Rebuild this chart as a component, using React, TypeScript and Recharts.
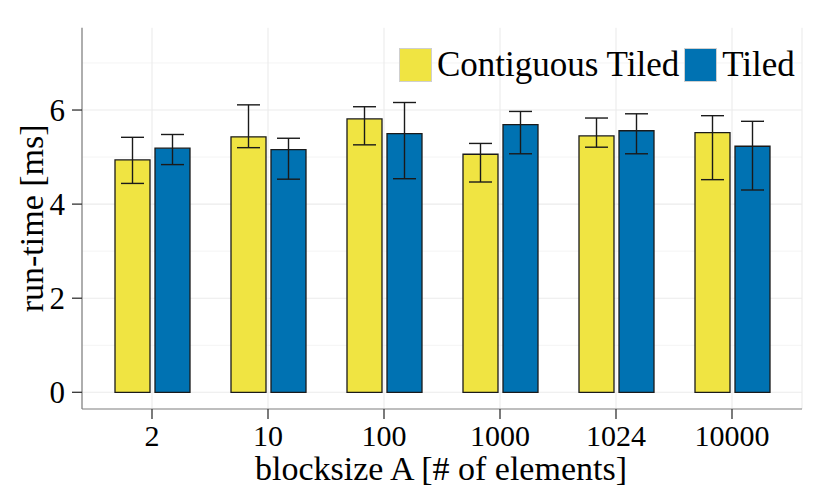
import React from 'react';
import {
  BarChart,
  Bar,
  XAxis,
  YAxis,
  CartesianGrid,
  ErrorBar,
  Legend,
  Label,
} from 'recharts';

const categories = ['2', '10', '100', '1000', '1024', '10000'];

const contiguousTiled = [4.94, 5.43, 5.81, 5.06, 5.45, 5.52];
const contiguousLow = [4.44, 5.2, 5.26, 4.47, 5.21, 4.52];
const contiguousHigh = [5.42, 6.11, 6.07, 5.29, 5.83, 5.88];

const tiled = [5.19, 5.16, 5.5, 5.69, 5.56, 5.23];
const tiledLow = [4.84, 4.53, 4.54, 5.07, 5.07, 4.3];
const tiledHigh = [5.48, 5.4, 6.16, 5.97, 5.92, 5.76];

const yMajorTicks = [0, 2, 4, 6];
const yMinorTicks = [1, 3, 5, 7];
const yDomain: [number, number] = [-0.355, 7.75];

const seriesNames = { ct: 'Contiguous Tiled', t: 'Tiled' };
const seriesColors: Record<string, string> = { ct: '#F0E442', t: '#0072B2' };

const data = categories.map((c, i) => ({
  category: c,
  ct: contiguousTiled[i],
  ctErr: [contiguousTiled[i] - contiguousLow[i], contiguousHigh[i] - contiguousTiled[i]],
  t: tiled[i],
  tErr: [tiled[i] - tiledLow[i], tiledHigh[i] - tiled[i]],
}));

const FONT = '"Liberation Serif", "Times New Roman", serif';
const BORDER = '#7f7f7f';
const TICK = '#333333';

const YTitle = (props: any) => {
  const vb = props.viewBox || { x: 0, y: 27.7, width: 82, height: 381.3 };
  const x = vb.x + 43;
  const y = vb.y + vb.height / 2;
  return (
    <text
      x={x}
      y={y}
      transform={`rotate(-90 ${x} ${y})`}
      textAnchor="middle"
      fontFamily={FONT}
      fontSize={34}
      fill="#000"
    >
      run-time [ms]
    </text>
  );
};

const XTitle = (props: any) => {
  const vb = props.viewBox || { x: 82, y: 409, width: 720, height: 89 };
  const x = vb.x + vb.width / 2 - 1;
  const y = vb.y + 71;
  return (
    <text x={x} y={y} textAnchor="middle" fontFamily={FONT} fontSize={34} fill="#000">
      blocksize A [# of elements]
    </text>
  );
};

const renderLegend = (props: any) => {
  const payload = props.payload || [];
  return (
    <div
      style={{
        display: 'flex',
        flexDirection: 'row',
        alignItems: 'center',
        whiteSpace: 'nowrap',
        fontFamily: FONT,
        fontSize: 35,
        color: '#000',
      }}
    >
      {payload.map((entry: any, i: number) => {
        const color = seriesColors[entry.dataKey as string] || entry.color;
        return (
          <div
            key={i}
            style={{ display: 'flex', alignItems: 'center', marginRight: i < payload.length - 1 ? 5 : 0 }}
          >
            <div
              style={{
                width: 33,
                height: 34,
                boxSizing: 'border-box',
                background: color,
                border: '1px solid #cfcfcf',
                marginRight: 5,
              }}
            />
            <span>{entry.value}</span>
          </div>
        );
      })}
    </div>
  );
};

export default function App() {
  return (
    <div style={{ position: 'absolute', left: 0, top: 0, width: 830, height: 498, background: '#fff' }}>
      <BarChart
        width={830}
        height={498}
        data={data}
        margin={{ top: 27.7, right: 28, bottom: 0, left: 0 }}
        barGap={5}
        barSize={35}
      >
        <CartesianGrid
          stroke="#f4f4f4"
          strokeWidth={1}
          vertical={false}
          horizontalValues={yMinorTicks}
        />
        <CartesianGrid
          stroke="#ebebeb"
          strokeWidth={1.1}
          vertical
          horizontal
          horizontalValues={yMajorTicks}
        />
        <XAxis
          dataKey="category"
          type="category"
          height={89}
          padding={{ left: 12, right: 12 }}
          tickSize={10}
          tickMargin={6}
          axisLine={{ stroke: BORDER, strokeWidth: 1.2 }}
          tickLine={{ stroke: TICK, strokeWidth: 1.3 }}
          tick={{ fontSize: 30, fill: '#000', fontFamily: FONT }}
          interval={0}
        >
          <Label content={XTitle} />
        </XAxis>
        <XAxis
          xAxisId="top"
          dataKey="category"
          orientation="top"
          height={0}
          padding={{ left: 12, right: 12 }}
          tick={false}
          tickLine={false}
          axisLine={{ stroke: BORDER, strokeWidth: 1.2 }}
        />
        <YAxis
          type="number"
          domain={yDomain}
          ticks={yMajorTicks}
          allowDataOverflow
          width={82}
          tickSize={10}
          tickMargin={7}
          axisLine={{ stroke: BORDER, strokeWidth: 1.2 }}
          tickLine={{ stroke: TICK, strokeWidth: 1.3 }}
          tick={{ fontSize: 31, fill: '#000', fontFamily: FONT }}
        >
          <Label content={YTitle} />
        </YAxis>
        <YAxis
          yAxisId="right"
          orientation="right"
          type="number"
          domain={yDomain}
          allowDataOverflow
          width={0}
          tick={false}
          tickLine={false}
          axisLine={{ stroke: BORDER, strokeWidth: 1.2 }}
        />
        <Legend
          content={renderLegend}
          layout="horizontal"
          verticalAlign="middle"
          align="center"
          wrapperStyle={{ top: 44.5, left: 399, width: 420, height: 39 }}
        />
        <Bar
          dataKey="ct"
          name={seriesNames.ct}
          fill={seriesColors.ct}
          stroke="#1a1a1a"
          strokeWidth={1.3}
          isAnimationActive={false}
        >
          <ErrorBar dataKey="ctErr" width={11.5} stroke="#1a1a1a" strokeWidth={1.4} isAnimationActive={false} />
        </Bar>
        <Bar
          dataKey="t"
          name={seriesNames.t}
          fill={seriesColors.t}
          stroke="#1a1a1a"
          strokeWidth={1.3}
          isAnimationActive={false}
        >
          <ErrorBar dataKey="tErr" width={11.5} stroke="#1a1a1a" strokeWidth={1.4} isAnimationActive={false} />
        </Bar>
      </BarChart>
    </div>
  );
}
